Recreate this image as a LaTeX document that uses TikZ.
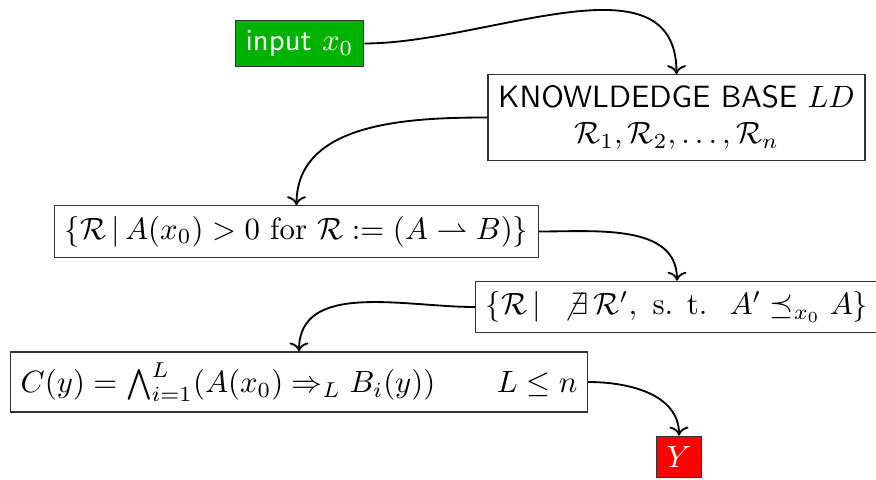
\documentclass[tikz,border=0pt]{standalone}
\usepackage{amsmath,amssymb}
\usepackage{tikz}
\usetikzlibrary{arrows.meta,positioning}

\begin{document}
\begin{tikzpicture}[
      x=0.325pt, y=-0.325pt,
      box/.style={
          rectangle, draw=black!80,
          align=center,
          inner sep=0.333em
        },
      flow/.style={draw, ->, semithick},
    ]
    \useasboundingbox (0,0) rectangle (876,479);
    \node[box, fill=green!70!black, text=white] (input) at (299.5,43.5) {\textsf{input} $x_0$};
    \node[box] (kb) at (676.5,117.5) {\textsf{KNOWLDEDGE BASE} $LD$\\ $\mathcal{R}_1,\mathcal{R}_2,\ldots,\mathcal{R}_n$};
    \node[box] (fire) at (296.5,231.5) {$\{\mathcal{R}\,|\,A(x_0)>0 \text{ for } \mathcal{R}:=(A\rightharpoonup B)\}$};
    \node[box] (min) at (677,307) {$\{\mathcal{R}\,|\;\,\not\exists\,\mathcal{R}',\text{ s. t. }\;A'\preceq_{x_0}A\}$};
    \node[box] (concl) at (299,382) {$C(y)=\bigwedge_{i=1}^{L}(A(x_0)\Rightarrow_L B_i(y))\qquad L\leq n$};
    \node[box, fill=red, text=white] (out) at (679,457) {$Y$};

    \draw[flow] (input.east) to[out=0,in=90] (kb.north);
    \draw[flow] (kb.west) to[out=180,in=90] (fire.north);
    \draw[flow] (fire.east) to[out=0,in=90] (min.north);
    \draw[flow] (min.west) to[out=180,in=90] (concl.north);
    \draw[flow] (concl.east) to[out=0,in=90] (out.north);
  \end{tikzpicture}
\end{document}
